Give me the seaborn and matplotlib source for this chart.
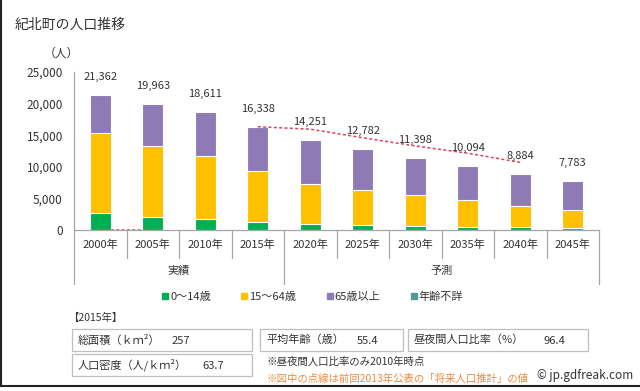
#!/usr/bin/env python3

import numpy as np
import pandas as pd
import matplotlib as mpl
import matplotlib.pyplot as plt
from matplotlib.patches import Rectangle
from matplotlib.lines import Line2D
import seaborn as sns

sns.set_style('white')
plt.rcParams['font.family'] = ['Noto Sans CJK JP', 'DejaVu Sans']

# Data
years = ['2000年', '2005年', '2010年', '2015年', '2020年',
         '2025年', '2030年', '2035年', '2040年', '2045年']
age_0_14 = [2710, 2000, 1680, 1330, 950, 750, 600, 500, 420, 360]
age_15_64 = [12640, 11350, 10020, 7960, 6350, 5600, 4900, 4200, 3350, 2850]
age_65_over = [6010, 6610, 6900, 7040, 6951, 6432, 5898, 5394, 5114, 4573]
age_unknown = [2, 3, 11, 8, 0, 0, 0, 0, 0, 0]
totals = [21362, 19963, 18611, 16338, 14251, 12782, 11398, 10094, 8884, 7783]
# previous (2013) projection, dotted line
old_projection = [0, 0, np.nan, 16338, 15950, 14600, 13300, 12150, 10700, np.nan]

groups = ['実績', '予測']
series_names = ['0～14歳', '15～64歳', '65歳以上', '年齢不詳']
colors = ['#00B050', '#FFC000', '#8E7AB4', '#4E9C9C']

W, H = 640, 391


def px(x, y):
    """pixel position -> figure fraction"""
    return x / W, 1 - y / H


d = pd.DataFrame({'year': years, 'a': age_0_14, 'b': age_15_64,
                  'c': age_65_over, 'u': age_unknown})
d['c1'] = d['a']
d['c2'] = d['c1'] + d['b']
d['c3'] = d['c2'] + d['c']
d['c4'] = d['c3'] + d['u']

fig = plt.figure(figsize=(W / 100, H / 100), dpi=100)
ax = fig.add_axes([74 / W, 1 - 230 / H, (599 - 74) / W, (230 - 72) / H])

# stacked bars: draw cumulative sums from the top down
for col, c in zip(['c4', 'c3', 'c2', 'c1'], colors[::-1]):
    sns.barplot(data=d, x='year', y=col, color=c, saturation=1, width=0.4,
                edgecolor='white', linewidth=0.8, ax=ax)

x = np.arange(len(years))
ax.plot(x, old_projection, color='#D9475A', linestyle=(0, (2, 1.5)), linewidth=1.1)

for i, t in enumerate(totals):
    ax.annotate(f"{t:,}", (i, d['c4'][i]), xytext=(0, 13), textcoords='offset points',
                ha='center', va='center', fontsize=8, color='#333333')

ax.set_xlim(-0.5, len(years) - 0.5)
ax.set_ylim(0, 25000)
ax.set_yticks(range(0, 25001, 5000))
ax.yaxis.set_major_formatter(mpl.ticker.FuncFormatter(lambda v, p: f"{int(v):,}"))
ax.tick_params(axis='y', length=0, pad=8, labelsize=8.5, labelcolor='#333333')
ax.set_xticks([])
ax.set_xlabel('')
ax.set_ylabel('')
for s in ['top', 'right']:
    ax.spines[s].set_visible(False)
for s in ['left', 'bottom']:
    ax.spines[s].set_color('#A6A6A6')
    ax.spines[s].set_linewidth(0.9)

# category boxes under the axis
tr = mpl.transforms.blended_transform_factory(ax.transData, fig.transFigure)
for i, y in enumerate(years):
    ax.text(i, px(0, 245)[1], y, transform=tr, ha='center', va='center',
            fontsize=8, color='#333333')
for k in range(len(years) + 1):
    xb = k - 0.5
    bottom = 284 if k in (0, 4, len(years)) else 258
    ax.add_line(Line2D([xb, xb], [px(0, 230)[1], px(0, bottom)[1]], transform=tr,
                       color='#A6A6A6', linewidth=0.9, clip_on=False))
ax.text(1.5, px(0, 271)[1], groups[0], transform=tr, ha='center', va='center',
        fontsize=8, color='#333333')
ax.text(6.5, px(0, 271)[1], groups[1], transform=tr, ha='center', va='center',
        fontsize=8, color='#333333')

# legend
handles = [Line2D([], [], marker='s', color=c, linestyle='none', markersize=4)
           for c in colors]
fig.legend(handles, series_names, loc='center', bbox_to_anchor=px(312, 297), ncol=4,
           frameon=False, fontsize=8, handletextpad=0.05, columnspacing=2.6,
           handlelength=0.8, labelcolor='#333333')

# title and unit
fig.text(*px(15, 25), '紀北町の人口推移', fontsize=10, color='#333333', va='center')
fig.text(*px(61, 53), '（人）', fontsize=8.5, color='#333333', va='center', ha='center')

# info boxes
fig.text(*px(68, 318), '【2015年】', fontsize=7.5, color='#333333', va='center')
boxes = [
    (72, 329, 252, 351, '総面積（ｋｍ²）', 172, '257'),
    (260, 329, 403, 351, '平均年齢（歳）', 357, '55.4'),
    (408, 329, 588, 351, '昼夜間人口比率（%）', 544, '96.4'),
    (72, 354, 252, 376, '人口密度（人/ｋｍ²）', 202, '63.7'),
]
for x0, y0, x1, y1, label, vx, val in boxes:
    fig.patches.append(Rectangle(px(x0, y1), (x1 - x0) / W, (y1 - y0) / H,
                                 transform=fig.transFigure, fill=False,
                                 edgecolor='#BFBFBF', linewidth=0.9))
    fig.text(*px(x0 + 6, (y0 + y1) / 2), label, fontsize=8, color='#333333', va='center')
    fig.text(*px(vx, (y0 + y1) / 2 + 1), val, fontsize=8, color='#333333', va='center')

fig.text(*px(266, 362), '※昼夜間人口比率のみ2010年時点', fontsize=7.5,
         color='#333333', va='center')
fig.text(*px(266, 379), '※図中の点線は前回2013年公表の「将来人口推計」の値', fontsize=7.5,
         color='#F08A3C', va='center')
fig.text(*px(537, 376), '© jp.gdfreak.com', fontsize=8.5, color='#333333', va='center')

# frame lines of the image
fig.add_artist(Line2D([px(1, 0)[0]] * 2, [px(0, 0)[1], px(0, 386)[1]],
                      transform=fig.transFigure, color='#222222', linewidth=1.5))
fig.add_artist(Line2D([0, 1], [px(0, 386)[1]] * 2,
                      transform=fig.transFigure, color='#222222', linewidth=1.5))

fig.savefig('out.png', dpi=100)
